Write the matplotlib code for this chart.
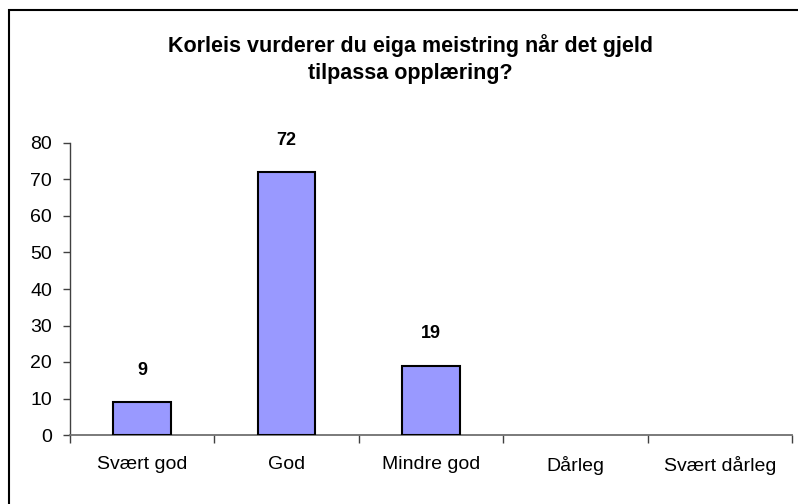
import matplotlib
matplotlib.use("Agg")
import matplotlib.pyplot as plt
from matplotlib.patches import Rectangle

categories = ["Svært god", "God", "Mindre god", "Dårleg", "Svært dårleg"]
values = [9, 72, 19, 0, 0]
labels = ["9", "72", "19", None, None]
yticks = [0, 10, 20, 30, 40, 50, 60, 70, 80]
title = "Korleis vurderer du eiga meistring når det gjeld\ntilpassa opplæring?"

plt.rcParams['font.family'] = ['Liberation Sans', 'DejaVu Sans']

W, H = 798, 504
fig = plt.figure(figsize=(W / 100, H / 100), dpi=100)
fig.patch.set_facecolor("white")

# outer border (chart area frame)
fig.add_artist(Rectangle((9 / W, -1.0), 2.0, 1.0 + (H - 10) / H, transform=fig.transFigure,
                         fill=False, edgecolor="black", linewidth=1.5))

ax = fig.add_axes([70 / W, (H - 435) / H, (792 - 70) / W, (435 - 143) / H])
x = list(range(len(categories)))
lw = [1.5 if v > 0 else 0 for v in values]
ax.bar(x, values, width=0.4, color="#9999FF", edgecolor="black", linewidth=lw, zorder=3)
for xi, v, lab in zip(x, values, labels):
    if lab:
        ax.annotate(lab, (xi, v), xytext=(0, 17), textcoords="offset points",
                    ha="center", va="bottom", fontsize=13, fontweight="bold")

ax.set_xlim(-0.5, len(categories) - 0.5)
ax.set_ylim(0, 80)
ax.set_yticks(yticks)
ax.set_yticklabels([str(t) for t in yticks], fontsize=14)
ax.set_xticks(x)
ax.set_xticklabels(categories, fontsize=14)
ax.tick_params(axis="x", length=0, pad=15)
ax.tick_params(axis="y", length=5, width=1, color="#404040", pad=8)
# category boundary ticks
ax.set_xticks([i - 0.5 for i in range(len(categories) + 1)], minor=True)
ax.tick_params(axis="x", which="minor", length=6, width=1, color="#404040", direction="out")
for s in ["top", "right"]:
    ax.spines[s].set_visible(False)
ax.spines["left"].set_color("#404040")
ax.spines["bottom"].set_color("#707070")
ax.spines["left"].set_linewidth(1)
ax.spines["bottom"].set_linewidth(1.3)
ax.patch.set_alpha(0)

fig.text(410 / W, 1 - 59 / H, title, ha="center", va="center", fontsize=15.5,
         fontweight="bold", linespacing=1.35)

fig.savefig("out.png", dpi=100, facecolor="white")
